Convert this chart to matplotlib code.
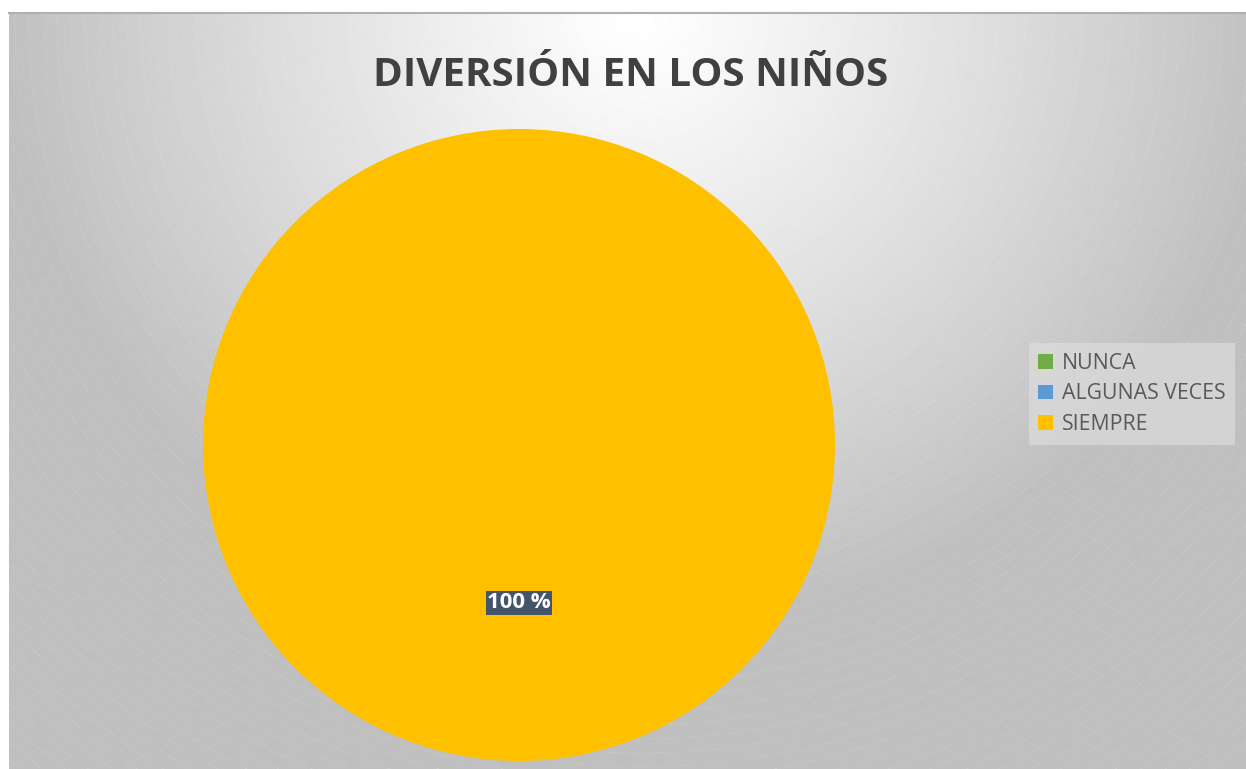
import numpy as np
from matplotlib import pyplot as plt

categories = ['NUNCA', 'ALGUNAS VECES', 'SIEMPRE']
values = [0, 0, 100]
colors = ['#70AD47', '#5B9BD5', '#FFC000']

title = 'DIVERSIÓN EN LOS NIÑOS'
title_color = '#404040'
legend_text_color = '#595959'
label_bg = '#44546A'

W, H = 1246, 769
fig = plt.figure(figsize=(W / 100, H / 100), dpi=100)
fig.patch.set_facecolor('white')

# chart area background: radial gradient, bright at top centre
bg = fig.add_axes([9 / W, 0, 1 - 9 / W, 1 - 13 / H])
yy, xx = np.mgrid[0:757, 0:1237]
r = np.sqrt(((xx - 630) / 1.0) ** 2 + ((yy - 5) / 0.95) ** 2)
shade = 1.0 - 0.25 * np.clip(r / 640, 0, 1) ** 1.1
bg.imshow(shade, cmap='gray', vmin=0, vmax=1, aspect='auto',
          interpolation='bilinear')
# faint rings
for rad in np.arange(260, 1000, 14):
    bg.add_patch(plt.Circle((630, 5), rad, fill=False, lw=0.6,
                            color='white', alpha=0.18, ls=(0, (3, 3))))
bg.set_xlim(0, 1237)
bg.set_ylim(757, 0)
bg.axis('off')
fig.add_artist(plt.Line2D([9 / W, 1], [1 - 13 / H, 1 - 13 / H],
                          color='#b0b0b0', lw=1.5))

# pie
R = 316
ax = fig.add_axes([(519 - R) / W, 1 - (445 + R) / H, 2 * R / W, 2 * R / H])


def pct_label(p):
    return f'{p:.0f} %' if p > 0 else ''


wedges, texts, autotexts = ax.pie(
    values, colors=colors, startangle=90, counterclock=False,
    autopct=pct_label, pctdistance=0.5,
    textprops=dict(color='white', fontsize=16, fontweight='bold',
                   family='Open Sans'))
for t in autotexts:
    if t.get_text():
        t.set_bbox(dict(facecolor=label_bg, edgecolor='none', pad=1.0))
ax.set_xlim(-1, 1)
ax.set_ylim(-1, 1)
ax.set_aspect('equal')
ax.axis('off')

fig.text(631 / W, 1 - 76 / H, title, ha='center', va='center',
         fontsize=29, fontweight='bold', color=title_color,
         family='Open Sans')

leg = fig.legend(wedges, categories, loc='center left',
                 bbox_to_anchor=(1018 / W, 1 - 394 / H),
                 frameon=True, fancybox=False, handlelength=0.7,
                 handleheight=0.7, handletextpad=0.4, labelspacing=0.45,
                 borderpad=0.45,
                 prop=dict(family='Open Sans', size=15.3))
leg.get_frame().set_facecolor('#e0e0e0')
leg.get_frame().set_alpha(0.6)
leg.get_frame().set_edgecolor('none')
for t in leg.get_texts():
    t.set_color(legend_text_color)

plt.savefig('out.png', dpi=100)
